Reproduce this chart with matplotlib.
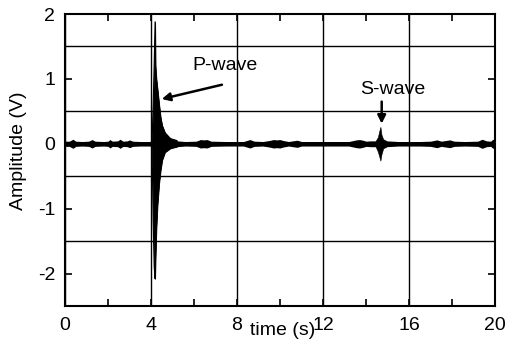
import matplotlib
matplotlib.use("Agg")
import matplotlib.pyplot as plt
from matplotlib.ticker import MultipleLocator

plt.rcParams['font.family'] = ['Liberation Sans', 'DejaVu Sans']
plt.rcParams['axes.unicode_minus'] = False

# ---- data ----
# background noise: time (s) and half-width of the trace envelope (V)
noise_t = [0.0, 0.2, 0.37, 0.5, 0.8, 1.1, 1.26, 1.4, 1.8, 2.0, 2.09, 2.2, 2.45,
           2.56, 2.7, 2.9, 3.0, 3.15, 3.5, 3.9, 4.05, 5.2, 5.6, 6.1, 6.3, 6.45,
           6.6, 6.8, 7.5, 8.3, 8.6, 8.8, 9.2, 9.5, 9.7, 9.85, 10.0, 10.15, 10.4,
           10.8, 11.0, 11.5, 12.5, 13.2, 13.55, 13.7, 13.85, 14.0, 14.2, 14.45,
           14.95, 15.5, 16.5, 17.0, 17.3, 17.5, 17.9, 18.1, 18.6, 19.2, 19.4,
           19.6, 19.8, 19.9, 20.0]
noise_amp = [0.04, 0.04, 0.07, 0.04, 0.035, 0.04, 0.065, 0.04, 0.035, 0.04, 0.065,
             0.04, 0.045, 0.07, 0.04, 0.045, 0.06, 0.04, 0.035, 0.035, 0.04, 0.045,
             0.035, 0.04, 0.065, 0.06, 0.065, 0.04, 0.035, 0.035, 0.065, 0.04,
             0.035, 0.05, 0.065, 0.06, 0.065, 0.05, 0.035, 0.055, 0.035, 0.035,
             0.035, 0.035, 0.06, 0.065, 0.055, 0.04, 0.045, 0.045, 0.045, 0.035,
             0.035, 0.04, 0.06, 0.04, 0.06, 0.04, 0.035, 0.04, 0.07, 0.045, 0.04,
             0.07, 0.06]

# P-wave arrival: time (s), upper and lower envelope (V)
p_t = [4.05, 4.10, 4.15, 4.19, 4.21, 4.25, 4.30, 4.38, 4.45, 4.52, 4.65, 4.9, 5.2]
p_upper = [0.05, 0.6, 1.25, 1.88, 1.2, 1.0, 0.85, 0.6, 0.4, 0.28, 0.17, 0.08, 0.05]
p_lower = [-0.05, -1.2, -1.9, -2.08, -1.75, -1.3, -0.95, -0.6, -0.4, -0.25,
           -0.13, -0.07, -0.045]

# S-wave arrival
s_t = [14.45, 14.55, 14.62, 14.67, 14.72, 14.8, 14.95]
s_upper = [0.045, 0.1, 0.2, 0.26, 0.14, 0.07, 0.045]
s_lower = [-0.045, -0.12, -0.2, -0.26, -0.16, -0.07, -0.045]

x_ticks = [0, 4, 8, 12, 16, 20]
y_ticks = [-2, -1, 0, 1, 2]

# ---- figure ----
fig = plt.figure(figsize=(5.09, 3.51), dpi=100)
ax = fig.add_axes([0.1277, 0.1282, 0.8448, 0.8319])

neg_noise = [-a for a in noise_amp]
ax.fill_between(noise_t, neg_noise, noise_amp, color='black', lw=0, zorder=3)
ax.fill_between(p_t, p_lower, p_upper, color='black', lw=0.6, zorder=3)
ax.plot(p_t, p_upper, color='black', lw=0.8, zorder=3)
ax.plot(p_t, p_lower, color='black', lw=0.8, zorder=3)
ax.fill_between(s_t, s_lower, s_upper, color='black', lw=0.4, zorder=3)

ax.set_xlim(0, 20)
ax.set_ylim(-2.5, 2)

ax.set_xticks(x_ticks)
ax.set_yticks(y_ticks)
ax.xaxis.set_minor_locator(MultipleLocator(2))
ax.yaxis.set_minor_locator(MultipleLocator(0.5))

ax.grid(True, which='major', axis='x', color='black', lw=1.0, zorder=1)
ax.grid(True, which='minor', axis='y', color='black', lw=1.0, zorder=1)

ax.tick_params(which='both', direction='in', top=True, right=True,
               color='black', width=1.2)
ax.tick_params(which='major', length=5, labelsize=14)
ax.tick_params(axis='x', which='major', pad=8)
ax.tick_params(axis='y', which='major', pad=7)
ax.tick_params(axis='x', which='minor', length=5)
ax.tick_params(axis='y', which='minor', length=0)

for sp in ax.spines.values():
    sp.set_linewidth(1.5)
    sp.set_color('black')

ax.set_xlabel('time (s)', fontsize=14)
ax.xaxis.set_label_coords(0.505, -0.055)
ax.set_ylabel('Amplitude (V)', fontsize=14)
ax.yaxis.set_label_coords(-0.088, 0.53)

# annotations
ax.text(7.44, 1.2, 'P-wave', fontsize=14, ha='center', va='center', zorder=5)
ax.annotate('', xy=(4.5, 0.69), xytext=(7.3, 0.91),
            arrowprops=dict(arrowstyle='-|>', color='black', lw=1.8,
                            mutation_scale=12, shrinkA=0, shrinkB=0), zorder=5)
ax.text(15.23, 0.83, 'S-wave', fontsize=14, ha='center', va='center', zorder=5)
ax.annotate('', xy=(14.73, 0.31), xytext=(14.73, 0.65),
            arrowprops=dict(arrowstyle='-|>', color='black', lw=1.8,
                            mutation_scale=12, shrinkA=0, shrinkB=0), zorder=5)

fig.savefig('out.png', dpi=100)
